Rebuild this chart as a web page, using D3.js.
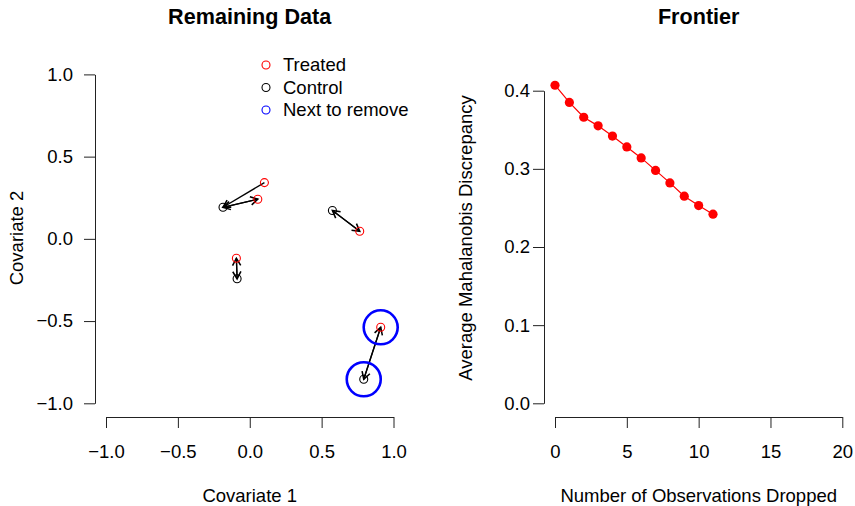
<!DOCTYPE html>
<html>
<head>
<meta charset="utf-8">
<script src="https://cdn.jsdelivr.net/npm/d3@7"></script>
<style>
  body { margin: 0; background: #fff; }
  text { font-family: "Liberation Sans", Arial, Helvetica, sans-serif; }
</style>
</head>
<body>
<svg id="chart" width="855" height="506"></svg>
<script>
// ---- Data ----
const treatedX = [0.102, 0.056, 0.765, -0.093, 0.911];
const treatedY = [0.342, 0.241, 0.046, -0.118, -0.538];
const controlX = [-0.186, 0.575, -0.088, 0.793];
const controlY = [0.192, 0.172, -0.243, -0.854];
// nearest opposite-group match (index into the other group)
const treatedMatch = [0, 0, 1, 2, 3];
const controlMatch = [1, 2, 3, 4];
// pair flagged for removal
const nextTreated = [4];
const nextControl = [3];

const legendLabels = ["Treated", "Control", "Next to remove"];
const legendColors = ["#ff0000", "#000000", "#0000ff"];

const droppedX = [0, 1, 2, 3, 4, 5, 6, 7, 8, 9, 10, 11];
const discrepancy = [0.407, 0.385, 0.366, 0.355, 0.342, 0.328, 0.314, 0.298, 0.282, 0.265, 0.253, 0.242];

const leftTicks = [-1.0, -0.5, 0.0, 0.5, 1.0];
const rightXTicks = [0, 5, 10, 15, 20];
const rightYTicks = [0.0, 0.1, 0.2, 0.3, 0.4];

// ---- Setup ----
const svg = d3.select("#chart");
const FS = 18.5;

const defs = svg.append("defs");
defs.append("marker")
  .attr("id", "ah")
  .attr("viewBox", "-8 -5 10 10")
  .attr("refX", 0).attr("refY", 0)
  .attr("markerUnits", "userSpaceOnUse")
  .attr("markerWidth", 12).attr("markerHeight", 12)
  .attr("orient", "auto")
  .append("path")
  .attr("d", "M-6,-3.4 L0,0 L-6,3.4")
  .attr("fill", "none").attr("stroke", "#000").attr("stroke-width", 1.3);

function styleAxis(g) {
  g.selectAll("path.domain").attr("stroke", "#222").attr("stroke-width", 1);
  g.selectAll(".tick line").attr("stroke", "#222").attr("stroke-width", 1);
  g.selectAll(".tick text").attr("font-size", FS).attr("fill", "#000")
    .attr("font-family", '"Liberation Sans", Arial, sans-serif');
}

// ---- Left panel ----
const xL = d3.scaleLinear().domain([-1, 1]).range([106, 393.5]);
const yL = d3.scaleLinear().domain([-1, 1]).range([403.3, 74.4]);

const fmt1 = d3.format(".1f");
svg.append("g").attr("transform", "translate(0,417)")
  .call(d3.axisBottom(xL).tickValues(leftTicks).tickFormat(fmt1).tickSize(11).tickPadding(17).tickSizeOuter(0))
  .call(styleAxis);
svg.append("g").attr("transform", "translate(95,0)")
  .call(d3.axisLeft(yL).tickValues(leftTicks).tickFormat(fmt1).tickSize(11).tickPadding(11).tickSizeOuter(0))
  .call(styleAxis);

svg.append("text").attr("x", 249.7).attr("y", 24).attr("text-anchor", "middle")
  .attr("font-size", 21.6).attr("font-weight", "bold").text("Remaining Data");
svg.append("text").attr("x", 249.7).attr("y", 502).attr("text-anchor", "middle")
  .attr("font-size", FS).text("Covariate 1");
svg.append("text").attr("transform", "translate(23,238) rotate(-90)").attr("text-anchor", "middle")
  .attr("font-size", FS).text("Covariate 2");

// arrows
const arrows = [];
treatedMatch.forEach((j, i) => arrows.push({x1: treatedX[i], y1: treatedY[i], x2: controlX[j], y2: controlY[j]}));
controlMatch.forEach((j, i) => arrows.push({x1: controlX[i], y1: controlY[i], x2: treatedX[j], y2: treatedY[j]}));
svg.append("g").selectAll("line").data(arrows).join("line")
  .attr("x1", d => xL(d.x1)).attr("y1", d => yL(d.y1))
  .attr("x2", d => xL(d.x2)).attr("y2", d => yL(d.y2))
  .attr("stroke", "#000").attr("stroke-width", 1.3)
  .attr("marker-end", "url(#ah)");

// points
svg.append("g").selectAll("circle").data(treatedX).join("circle")
  .attr("cx", (d) => xL(d)).attr("cy", (d, i) => yL(treatedY[i])).attr("r", 4)
  .attr("fill", "none").attr("stroke", "#ff0000").attr("stroke-width", 1.1);
svg.append("g").selectAll("circle").data(controlX).join("circle")
  .attr("cx", (d) => xL(d)).attr("cy", (d, i) => yL(controlY[i])).attr("r", 4)
  .attr("fill", "none").attr("stroke", "#000").attr("stroke-width", 1.1);

// next to remove
const nextPts = nextTreated.map(i => [treatedX[i], treatedY[i]])
  .concat(nextControl.map(i => [controlX[i], controlY[i]]));
svg.append("g").selectAll("circle").data(nextPts).join("circle")
  .attr("cx", d => xL(d[0])).attr("cy", d => yL(d[1])).attr("r", 17)
  .attr("fill", "none").attr("stroke", "#0000ff").attr("stroke-width", 2.6);

// legend
const lg = svg.append("g");
legendLabels.forEach((lab, i) => {
  const y = 65 + i * 22.5;
  lg.append("circle").attr("cx", 266).attr("cy", y).attr("r", 4)
    .attr("fill", "none").attr("stroke", legendColors[i]).attr("stroke-width", 1.1);
  lg.append("text").attr("x", 283).attr("y", y).attr("dy", "0.35em")
    .attr("font-size", FS).text(lab);
});

// ---- Right panel ----
const xR = d3.scaleLinear().domain([0, 20]).range([555, 842.3]);
const yR = d3.scaleLinear().domain([0, 0.4]).range([403.3, 90.7]);

svg.append("g").attr("transform", "translate(0,417)")
  .call(d3.axisBottom(xR).tickValues(rightXTicks).tickFormat(d3.format("d")).tickSize(11).tickPadding(17).tickSizeOuter(0))
  .call(styleAxis);
svg.append("g").attr("transform", "translate(544,0)")
  .call(d3.axisLeft(yR).tickValues(rightYTicks).tickFormat(fmt1).tickSize(11).tickPadding(3).tickSizeOuter(0))
  .call(styleAxis);

svg.append("text").attr("x", 698.7).attr("y", 24).attr("text-anchor", "middle")
  .attr("font-size", 21.6).attr("font-weight", "bold").text("Frontier");
svg.append("text").attr("x", 698.7).attr("y", 502).attr("text-anchor", "middle")
  .attr("font-size", FS).text("Number of Observations Dropped");
svg.append("text").attr("transform", "translate(472,238) rotate(-90)").attr("text-anchor", "middle")
  .attr("font-size", FS).text("Average Mahalanobis Discrepancy");

const line = d3.line().x((d, i) => xR(droppedX[i])).y(d => yR(d));
svg.append("path").datum(discrepancy).attr("d", line)
  .attr("fill", "none").attr("stroke", "#ff0000").attr("stroke-width", 1.2);
svg.append("g").selectAll("circle").data(discrepancy).join("circle")
  .attr("cx", (d, i) => xR(droppedX[i])).attr("cy", d => yR(d)).attr("r", 4.6)
  .attr("fill", "#ff0000");
</script>
</body>
</html>
